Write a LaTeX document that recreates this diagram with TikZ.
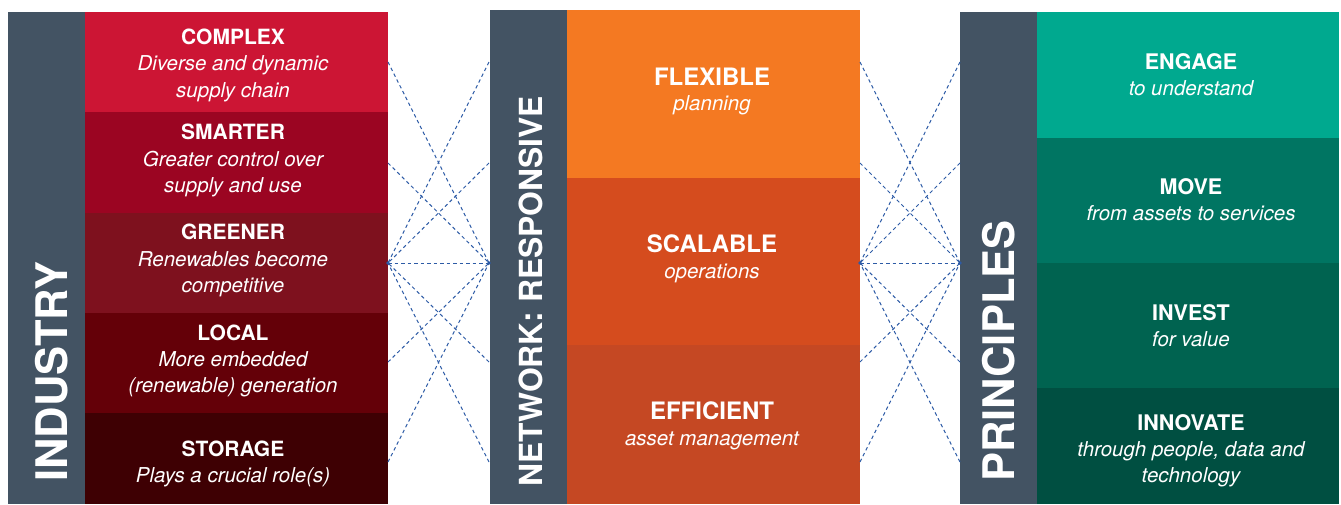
\documentclass[tikz,border=0pt]{standalone}
\usepackage{fontspec}
\setmainfont{TeX Gyre Heros}
\definecolor{slate}{HTML}{435363}
\definecolor{redA}{HTML}{CC1534}
\definecolor{redB}{HTML}{9B0522}
\definecolor{redC}{HTML}{7E111E}
\definecolor{redD}{HTML}{640008}
\definecolor{redE}{HTML}{3E0003}
\definecolor{orA}{HTML}{F47922}
\definecolor{orB}{HTML}{D54C1E}
\definecolor{orC}{HTML}{C54823}
\definecolor{grA}{HTML}{00A98F}
\definecolor{grB}{HTML}{007562}
\definecolor{grC}{HTML}{006350}
\definecolor{grD}{HTML}{004F41}
\definecolor{linkblue}{HTML}{2D5BA6}
\begin{document}
\begin{tikzpicture}[x=1pt,y=-1pt,
  ttl/.style={font=\bfseries\fontsize{21}{21}\selectfont, text=white, inner sep=0pt, anchor=base},
  ttlo/.style={ttl, font=\bfseries\fontsize{24}{24}\selectfont},
  ttlg/.style={ttl, font=\bfseries\fontsize{21.5}{21.5}\selectfont},
  sub/.style={font=\itshape\fontsize{20.5}{20.5}\selectfont, text=white, inner sep=0pt, anchor=base},
  big/.style={font=\bfseries\fontsize{43.5}{43.5}\selectfont, text=white, inner sep=0pt, rotate=90, anchor=base west},
  link/.style={draw=linkblue, line width=1pt, dash pattern=on 3.5pt off 3pt},
  enddot/.style={circle, fill=linkblue, inner sep=0pt, minimum size=3.6pt}]
\useasboundingbox (0,0) rectangle (1341,504);
\fill[white] (0,0) rectangle (1341,504);
% side bars
\fill[slate] (8,12) rectangle (85,504);
\fill[slate] (490,10) rectangle (567,504);
\fill[slate] (960,12) rectangle (1037,504);
% industry boxes
\fill[redA] (85,12) rectangle (388,112);
\fill[redB] (85,112) rectangle (388,213);
\fill[redC] (85,213) rectangle (388,313);
\fill[redD] (85,313) rectangle (388,413);
\fill[redE] (85,413) rectangle (388,504);
% network boxes
\fill[orA] (567,10) rectangle (860,178);
\fill[orB] (567,178) rectangle (860,345);
\fill[orC] (567,345) rectangle (860,504);
% principle boxes
\fill[grA] (1037,12) rectangle (1339,138);
\fill[grB] (1037,138) rectangle (1339,263);
\fill[grC] (1037,263) rectangle (1339,388);
\fill[grD] (1037,388) rectangle (1339,504);
% vertical headings
\node[big] (hind) at (67,482) {INDUSTRY};
\node[big, font=\bfseries\fontsize{31.8}{31.8}\selectfont] (hnet) at (542,487) {NETWORK: RESPONSIVE};
\node[big] (hpri) at (1014,482) {PRINCIPLES};
% industry texts
\node[ttl] (c1) at (233,44) {COMPLEX};
\node[sub] (c1a) at (233,70) {Diverse and dynamic};
\node[sub] (c1b) at (233,97) {supply chain};
\node[ttl] (c2) at (233,139) {SMARTER};
\node[sub] (c2a) at (233,166) {Greater control over};
\node[sub] (c2b) at (233,192) {supply and use};
\node[ttl] (c3) at (233,239) {GREENER};
\node[sub] (c3a) at (233,266) {Renewables become};
\node[sub] (c3b) at (233,292) {competitive};
\node[ttl] (c4) at (233,340) {LOCAL};
\node[sub] (c4a) at (233,366) {More embedded};
\node[sub] (c4b) at (233,392) {(renewable) generation};
\node[ttl] (c5) at (233,456) {STORAGE};
\node[sub] (c5a) at (233,482) {Plays a crucial role(s)};
% network texts
\node[ttlo] (o1) at (712,85) {FLEXIBLE};
\node[sub] (o1a) at (712,110) {planning};
\node[ttlo] (o2) at (712,252) {SCALABLE};
\node[sub] (o2a) at (712,278) {operations};
\node[ttlo] (o3) at (712,419) {EFFICIENT};
\node[sub] (o3a) at (712,445) {asset management};
% principle texts
\node[ttlg] (g1) at (1191,69) {ENGAGE};
\node[sub] (g1a) at (1191,95) {to understand};
\node[ttlg] (g2) at (1191,194) {MOVE};
\node[sub] (g2a) at (1191,220) {from assets to services};
\node[ttlg] (g3) at (1191,320) {INVEST};
\node[sub] (g3a) at (1191,346) {for value};
\node[ttlg] (g4) at (1191,430) {INNOVATE};
\node[sub] (g4a) at (1191,456) {through people, data and};
\node[sub] (g4b) at (1191,482) {technology};
% connector end points
\foreach \i/\yy in {1/62,2/163,3/263,4/362,5/462}{
  \coordinate (L\i) at (388,\yy);
  \coordinate (M\i) at (489,\yy);
  \coordinate (N\i) at (860,\yy);
  \coordinate (P\i) at (960,\yy);
}
\foreach \i in {1,2,4,5}{
  \draw[link] (L\i) -- (M3);
  \draw[link] (M\i) -- (L3);
  \draw[link] (N\i) -- (P3);
  \draw[link] (P\i) -- (N3);
}
\draw[link] (L3) -- (M3);
\draw[link] (N3) -- (P3);
\node[enddot] (dL) at (L3) {};
\node[enddot] (dM) at (M3) {};
\node[enddot] (dN) at (N3) {};
\node[enddot] (dP) at (P3) {};
\end{tikzpicture}
\end{document}
